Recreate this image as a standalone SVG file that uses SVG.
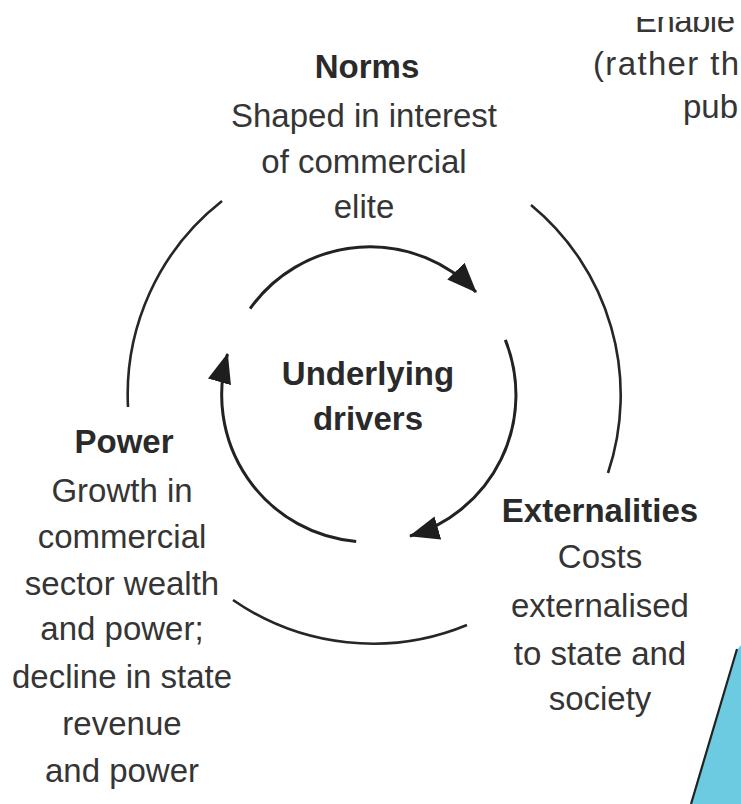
<svg xmlns="http://www.w3.org/2000/svg" width="741" height="804" viewBox="0 0 741 804">
  <style>
    text { font-family: "Liberation Sans", Arial, sans-serif; font-size: 33px; fill: #353535; text-anchor: middle; }
    .t { font-weight: bold; fill: #2a2a2a; }
    .s { text-anchor: start; }
    .arc { fill: none; stroke: #262626; stroke-width: 2.6; }
    .inner { fill: none; stroke: #222; stroke-width: 3; }
  </style>
  <defs>
    <marker id="ah" markerUnits="userSpaceOnUse" markerWidth="30" markerHeight="24" viewBox="0 0 30 24" refX="29" refY="12" orient="auto">
      <path d="M0,0 L30,12 L0,24 Z" fill="#1e1e1e"/>
    </marker>
    <clipPath id="topclip"><rect x="0" y="17" width="741" height="787"/></clipPath>
  </defs>
  <rect width="741" height="804" fill="#ffffff"/>

  <g id="connectors">
    <path class="arc" d="M 222 201 A 246 246 0 0 0 128 407"/>
    <path class="arc" d="M 531 205 A 246 246 0 0 1 608 473"/>
    <path class="arc" d="M 467 625 A 246 246 0 0 1 233 600"/>
    <path class="inner" marker-end="url(#ah)" d="M 250.1 308.6 A 147 147 0 0 1 476 292"/>
    <path class="inner" marker-end="url(#ah)" d="M 505.3 339.9 A 147 147 0 0 1 410 536"/>
    <path class="inner" marker-end="url(#ah)" d="M 356.2 541.4 A 147 147 0 0 1 227.5 354"/>
  </g>

  <g id="norms">
    <text class="t" x="367" y="78">Norms</text>
    <text x="364" y="127">Shaped in interest</text>
    <text x="364" y="173">of commercial</text>
    <text x="364" y="218">elite</text>
  </g>

  <g id="underlying">
    <text class="t" x="368" y="385">Underlying</text>
    <text class="t" x="368" y="430">drivers</text>
  </g>

  <g id="power">
    <text class="t" x="124" y="453">Power</text>
    <text x="122" y="502">Growth in</text>
    <text x="122" y="548">commercial</text>
    <text x="122" y="595">sector wealth</text>
    <text x="122" y="640">and power;</text>
    <text x="122" y="688">decline in state</text>
    <text x="122" y="735">revenue</text>
    <text x="122" y="782">and power</text>
  </g>

  <g id="externalities">
    <text class="t" x="600" y="522">Externalities</text>
    <text x="600" y="568">Costs</text>
    <text x="600" y="617">externalised</text>
    <text x="600" y="665">to state and</text>
    <text x="600" y="710">society</text>
  </g>

  <g id="partial-top-right">
    <text class="s" x="635" y="32" textLength="100" lengthAdjust="spacing" clip-path="url(#topclip)">Enable</text>
    <text class="s" x="593" y="75" textLength="146" lengthAdjust="spacing">(rather th</text>
    <text class="s" x="683" y="118">pub</text>
  </g>

  <g id="cyan-shape">
    <polygon points="736,651 741,645 741,804 691,804" fill="#6ccbe0"/>
    <line x1="737" y1="649" x2="691" y2="804" stroke="#222" stroke-width="2.2"/>
  </g>
</svg>
